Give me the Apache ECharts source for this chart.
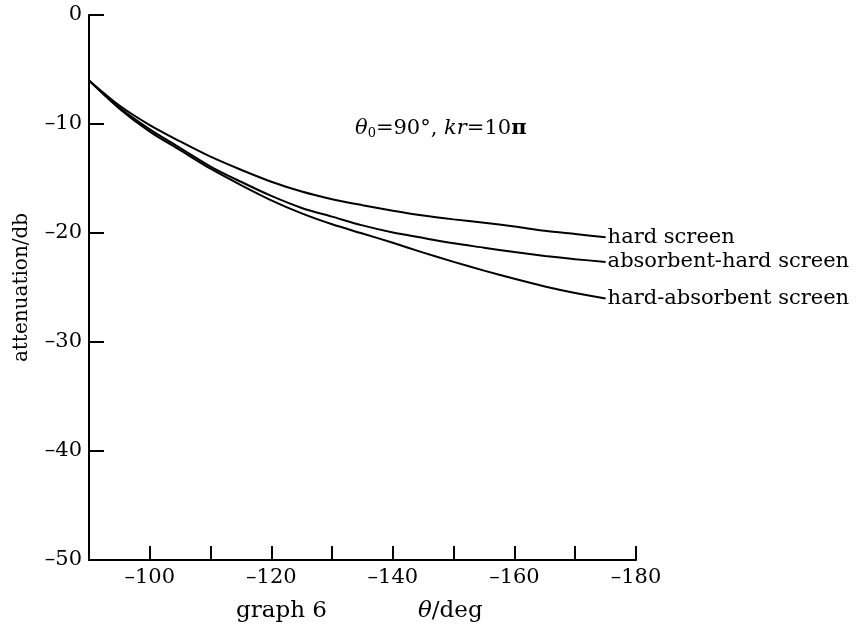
<!DOCTYPE html>
<html>
<head>
<meta charset="utf-8">
<script src="https://cdn.jsdelivr.net/npm/echarts@6/dist/echarts.min.js"></script>
<style>
html,body{margin:0;padding:0;background:#fff;}
#chart{width:856px;height:633px;}
</style>
</head>
<body>
<div id="chart"></div>
<script>
const theta = [-90,-95,-100,-105,-110,-115,-120,-125,-130,-135,-140,-145,-150,-155,-160,-165,-170,-175];
const hardScreen = [-6.0,-8.3,-10.1,-11.6,-13.0,-14.2,-15.3,-16.2,-16.9,-17.45,-17.95,-18.4,-18.75,-19.05,-19.4,-19.8,-20.1,-20.4];
const absorbentHard = [-6.0,-8.5,-10.5,-12.2,-13.9,-15.3,-16.6,-17.7,-18.5,-19.3,-19.95,-20.45,-20.95,-21.35,-21.75,-22.1,-22.4,-22.65];
const hardAbsorbent = [-6.0,-8.6,-10.7,-12.4,-14.1,-15.6,-17.0,-18.2,-19.2,-20.05,-20.9,-21.8,-22.65,-23.45,-24.2,-24.9,-25.5,-26.0];
const seriesNames = ['hard screen','absorbent-hard screen','hard-absorbent screen'];
const yTicks = [0,-10,-20,-30,-40,-50];

const FONT = 'DejaVu Serif';
const fmtMinus = v => String(v).replace('-', '\u2013');

function pairs(ys){ return theta.map((t,i)=>[t, ys[i]]); }

const chart = echarts.init(document.getElementById('chart'), null, {renderer:'canvas'});

function mkSeries(name, ys){
  return {
    name: name,
    type: 'line',
    data: pairs(ys),
    smooth: 0.3,
    showSymbol: false,
    symbol: 'none',
    lineStyle: {color:'#000', width: 2},
    endLabel: {
      show: true,
      formatter: '{a}',
      fontFamily: FONT,
      fontSize: 21,
      color: '#000',
      align: 'left',
      distance: 0,
      offset: [2, 0]
    },
    emphasis: {disabled: true},
    silent: true
  };
}

chart.setOption({
  animation: false,
  backgroundColor: '#fff',
  grid: {left: 89, right: 220, top: 15, bottom: 73, containLabel: false},
  xAxis: {
    type: 'value',
    min: -180, max: -90, interval: 10,
    inverse: true,
    axisLine: {show: true, onZero: false, lineStyle: {color:'#000', width: 2}},
    axisTick: {show: true, inside: true, length: 14, lineStyle: {color:'#000', width: 2}},
    axisLabel: {
      color:'#000', fontFamily: FONT, fontSize: 21, margin: 7,
      formatter: v => (v % 20 === 0 && v !== -90) ? fmtMinus(v) : ''
    },
    splitLine: {show: false}
  },
  yAxis: {
    type: 'value',
    min: yTicks[yTicks.length-1], max: yTicks[0], interval: 10,
    name: 'attenuation/db',
    nameLocation: 'middle',
    nameGap: 57,
    nameTextStyle: {color:'#000', fontFamily: FONT, fontSize: 20},
    axisLine: {show: true, onZero: false, lineStyle: {color:'#000', width: 2}},
    axisTick: {show: true, inside: true, length: 15, lineStyle: {color:'#000', width: 2}},
    axisLabel: {color:'#000', fontFamily: FONT, fontSize: 21, margin: 7, formatter: v => fmtMinus(v)},
    splitLine: {show: false}
  },
  series: [
    mkSeries(seriesNames[0], hardScreen),
    mkSeries(seriesNames[1], absorbentHard),
    mkSeries(seriesNames[2], hardAbsorbent)
  ],
  graphic: [
    {
      type: 'text', left: 355, top: 118,
      style: {
        text: '{it|\u03b8}{sub|0}{n|=90\u00b0, }{it|kr}{n|=10}{b|\u03c0}',
        rich: {
          it: {fontFamily: FONT, fontStyle: 'italic', fontSize: 21, fill:'#000'},
          sub: {fontFamily: FONT, fontSize: 13, fill:'#000', padding:[11,0,0,0]},
          n: {fontFamily: FONT, fontSize: 21, fill:'#000'},
          b: {fontFamily: FONT, fontSize: 21, fontWeight: 'bold', fill:'#000'}
        }
      }
    },
    {
      type: 'text', left: 236, top: 600,
      style: {text: 'graph 6', fontFamily: FONT, fontSize: 23, fill: '#000'}
    },
    {
      type: 'text', left: 418, top: 600,
      style: {
        text: '{it|\u03b8}{n|/deg}',
        rich: {
          it: {fontFamily: FONT, fontStyle: 'italic', fontSize: 23, fill:'#000'},
          n: {fontFamily: FONT, fontSize: 23, fill:'#000'}
        }
      }
    }
  ]
});
</script>
</body>
</html>
